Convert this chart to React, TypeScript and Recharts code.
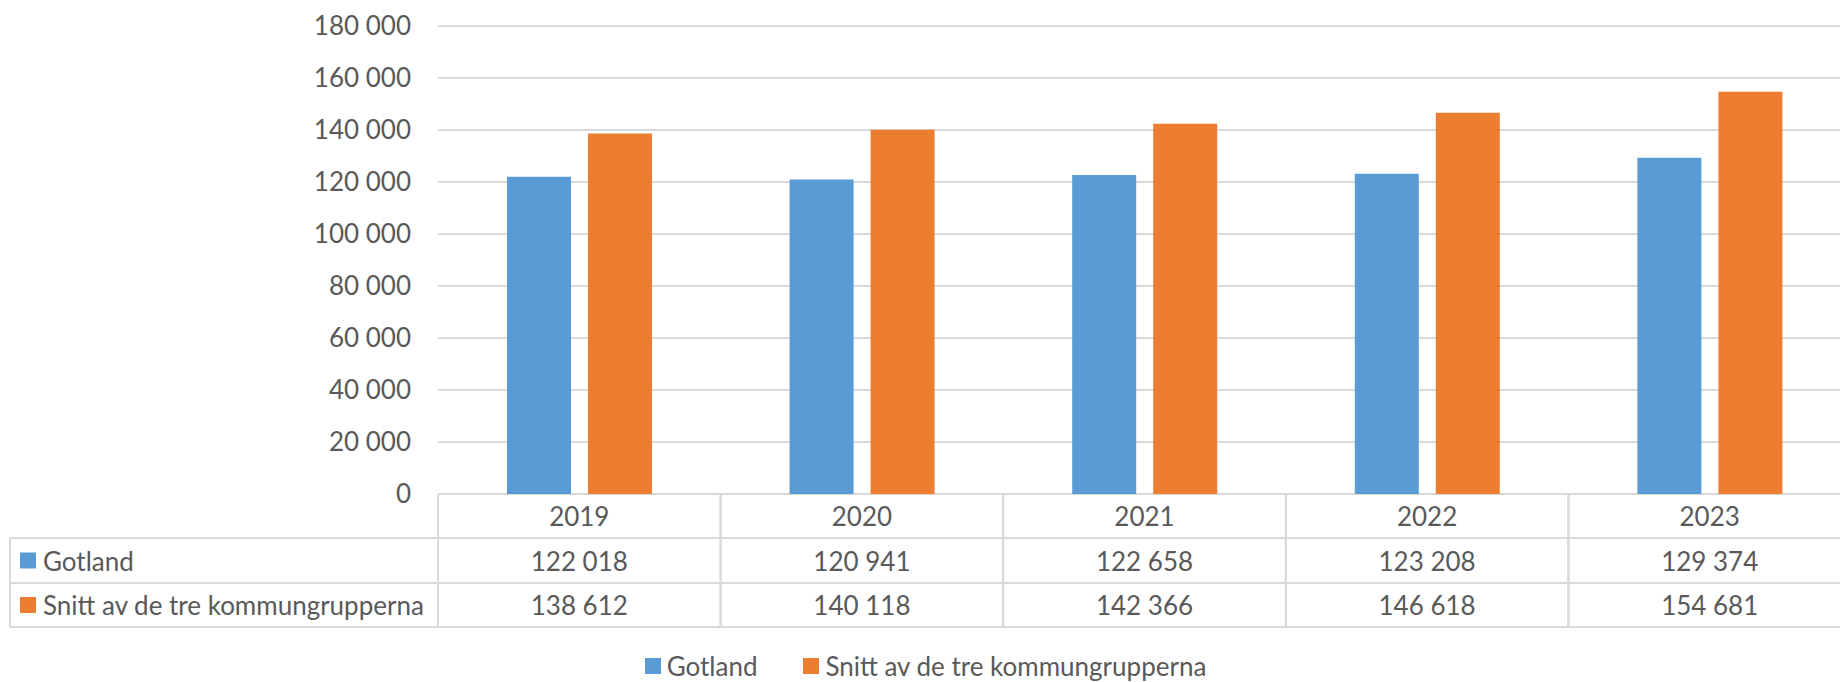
import React from "react";
import { BarChart, Bar, XAxis, YAxis, CartesianGrid, Legend } from "recharts";

const years = ["2019", "2020", "2021", "2022", "2023"];
const gotland = [122018, 120941, 122658, 123208, 129374];
const snitt = [138612, 140118, 142366, 146618, 154681];
const yTicks = [0, 20000, 40000, 60000, 80000, 100000, 120000, 140000, 160000, 180000];

const series = [
  { key: "gotland", name: "Gotland", color: "#5B9BD5", values: gotland },
  { key: "snitt", name: "Snitt av de tre kommungrupperna", color: "#ED7D31", values: snitt },
];

const data = years.map((year, i) => ({ year, gotland: gotland[i], snitt: snitt[i] }));

const CHART_W = 1851;
const CHART_H = 682;
const Y_AXIS_W = 438;
const TABLE_H = 133;
const LEGEND_H = 55;
const TEXT = "#595959";
const LINE = "#D9D9D9";
const FONT_SIZE = 26;

const fmt = (v: number) => String(v).replace(/\B(?=(\d{3})+(?!\d))/g, " ");

const catW = (CHART_W - Y_AXIS_W) / years.length;
const rowTops = [0, 44, 89, 133];

// data table drawn under the plot, one column per category tick
const TableTick = ({ x, y, payload, index }: any) => {
  const left = x - catW / 2;
  const right = x + catW / 2;
  return (
    <g>
      <line x1={left} y1={y} x2={left} y2={y + TABLE_H} stroke={LINE} strokeWidth={2} />
      <line x1={right} y1={y} x2={right} y2={y + TABLE_H} stroke={LINE} strokeWidth={2} />
      {rowTops.slice(1).map((r) => (
        <line key={r} x1={left} y1={y + r} x2={right} y2={y + r} stroke={LINE} strokeWidth={2} />
      ))}
      <text x={x} y={y + 22} textAnchor="middle" dominantBaseline="central" fill={TEXT} fontSize={FONT_SIZE}>
        {payload.value}
      </text>
      {series.map((s, si) => (
        <text
          key={s.key}
          x={x}
          y={y + (rowTops[si + 1] + rowTops[si + 2]) / 2}
          textAnchor="middle"
          dominantBaseline="central"
          fill={TEXT}
          fontSize={FONT_SIZE}
        >
          {fmt(s.values[index])}
        </text>
      ))}
      {index === 0 && (
        <g>
          <line x1={10} y1={y + 44} x2={10} y2={y + TABLE_H} stroke={LINE} strokeWidth={2} />
          {rowTops.slice(1).map((r) => (
            <line key={r} x1={10} y1={y + r} x2={left} y2={y + r} stroke={LINE} strokeWidth={2} />
          ))}
          {series.map((s, si) => {
            const cy = y + (rowTops[si + 1] + rowTops[si + 2]) / 2;
            return (
              <g key={s.key}>
                <rect x={20} y={cy - 8} width={16} height={16} fill={s.color} />
                <text x={43} y={cy} dominantBaseline="central" fill={TEXT} fontSize={FONT_SIZE}>
                  {s.name}
                </text>
              </g>
            );
          })}
        </g>
      )}
    </g>
  );
};

const renderLegend = () => (
  <div style={{ height: LEGEND_H, display: "flex", justifyContent: "center", alignItems: "flex-start" }}>
    {series.map((s, i) => (
      <div
        key={s.key}
        style={{
          display: "flex",
          alignItems: "center",
          height: 16,
          marginTop: 31,
          marginLeft: i > 0 ? 46 : 0,
          color: TEXT,
          fontSize: FONT_SIZE,
        }}
      >
        <span style={{ width: 16, height: 16, background: s.color, marginRight: 6, display: "inline-block" }} />
        <span style={{ lineHeight: "16px", whiteSpace: "nowrap" }}>{s.name}</span>
      </div>
    ))}
  </div>
);

export default function App() {
  return (
    <div
      style={{
        width: 1840,
        height: CHART_H,
        overflow: "hidden",
        position: "relative",
        background: "#fff",
        fontFamily: "Lato, 'Open Sans', sans-serif",
      }}
    >
      <style>{"body{margin:0}"}</style>
      <BarChart
        width={CHART_W}
        height={CHART_H}
        data={data}
        margin={{ top: 26, right: 0, left: 0, bottom: 0 }}
        barSize={64}
        barGap={17}
      >
        <CartesianGrid horizontal vertical={false} stroke={LINE} strokeWidth={2} />
        <XAxis
          dataKey="year"
          height={TABLE_H}
          axisLine={false}
          tickLine={false}
          tickSize={0}
          tickMargin={0}
          interval={0}
          tick={<TableTick />}
        />
        <YAxis
          width={Y_AXIS_W}
          domain={[0, 180000]}
          ticks={yTicks}
          axisLine={false}
          tickLine={false}
          tickSize={0}
          tickMargin={27}
          tickFormatter={fmt}
          tick={{ fill: TEXT, fontSize: FONT_SIZE }}
        />
        <Legend verticalAlign="bottom" height={LEGEND_H} content={renderLegend} />
        {series.map((s) => (
          <Bar key={s.key} dataKey={s.key} name={s.name} fill={s.color} isAnimationActive={false} />
        ))}
      </BarChart>
    </div>
  );
}
